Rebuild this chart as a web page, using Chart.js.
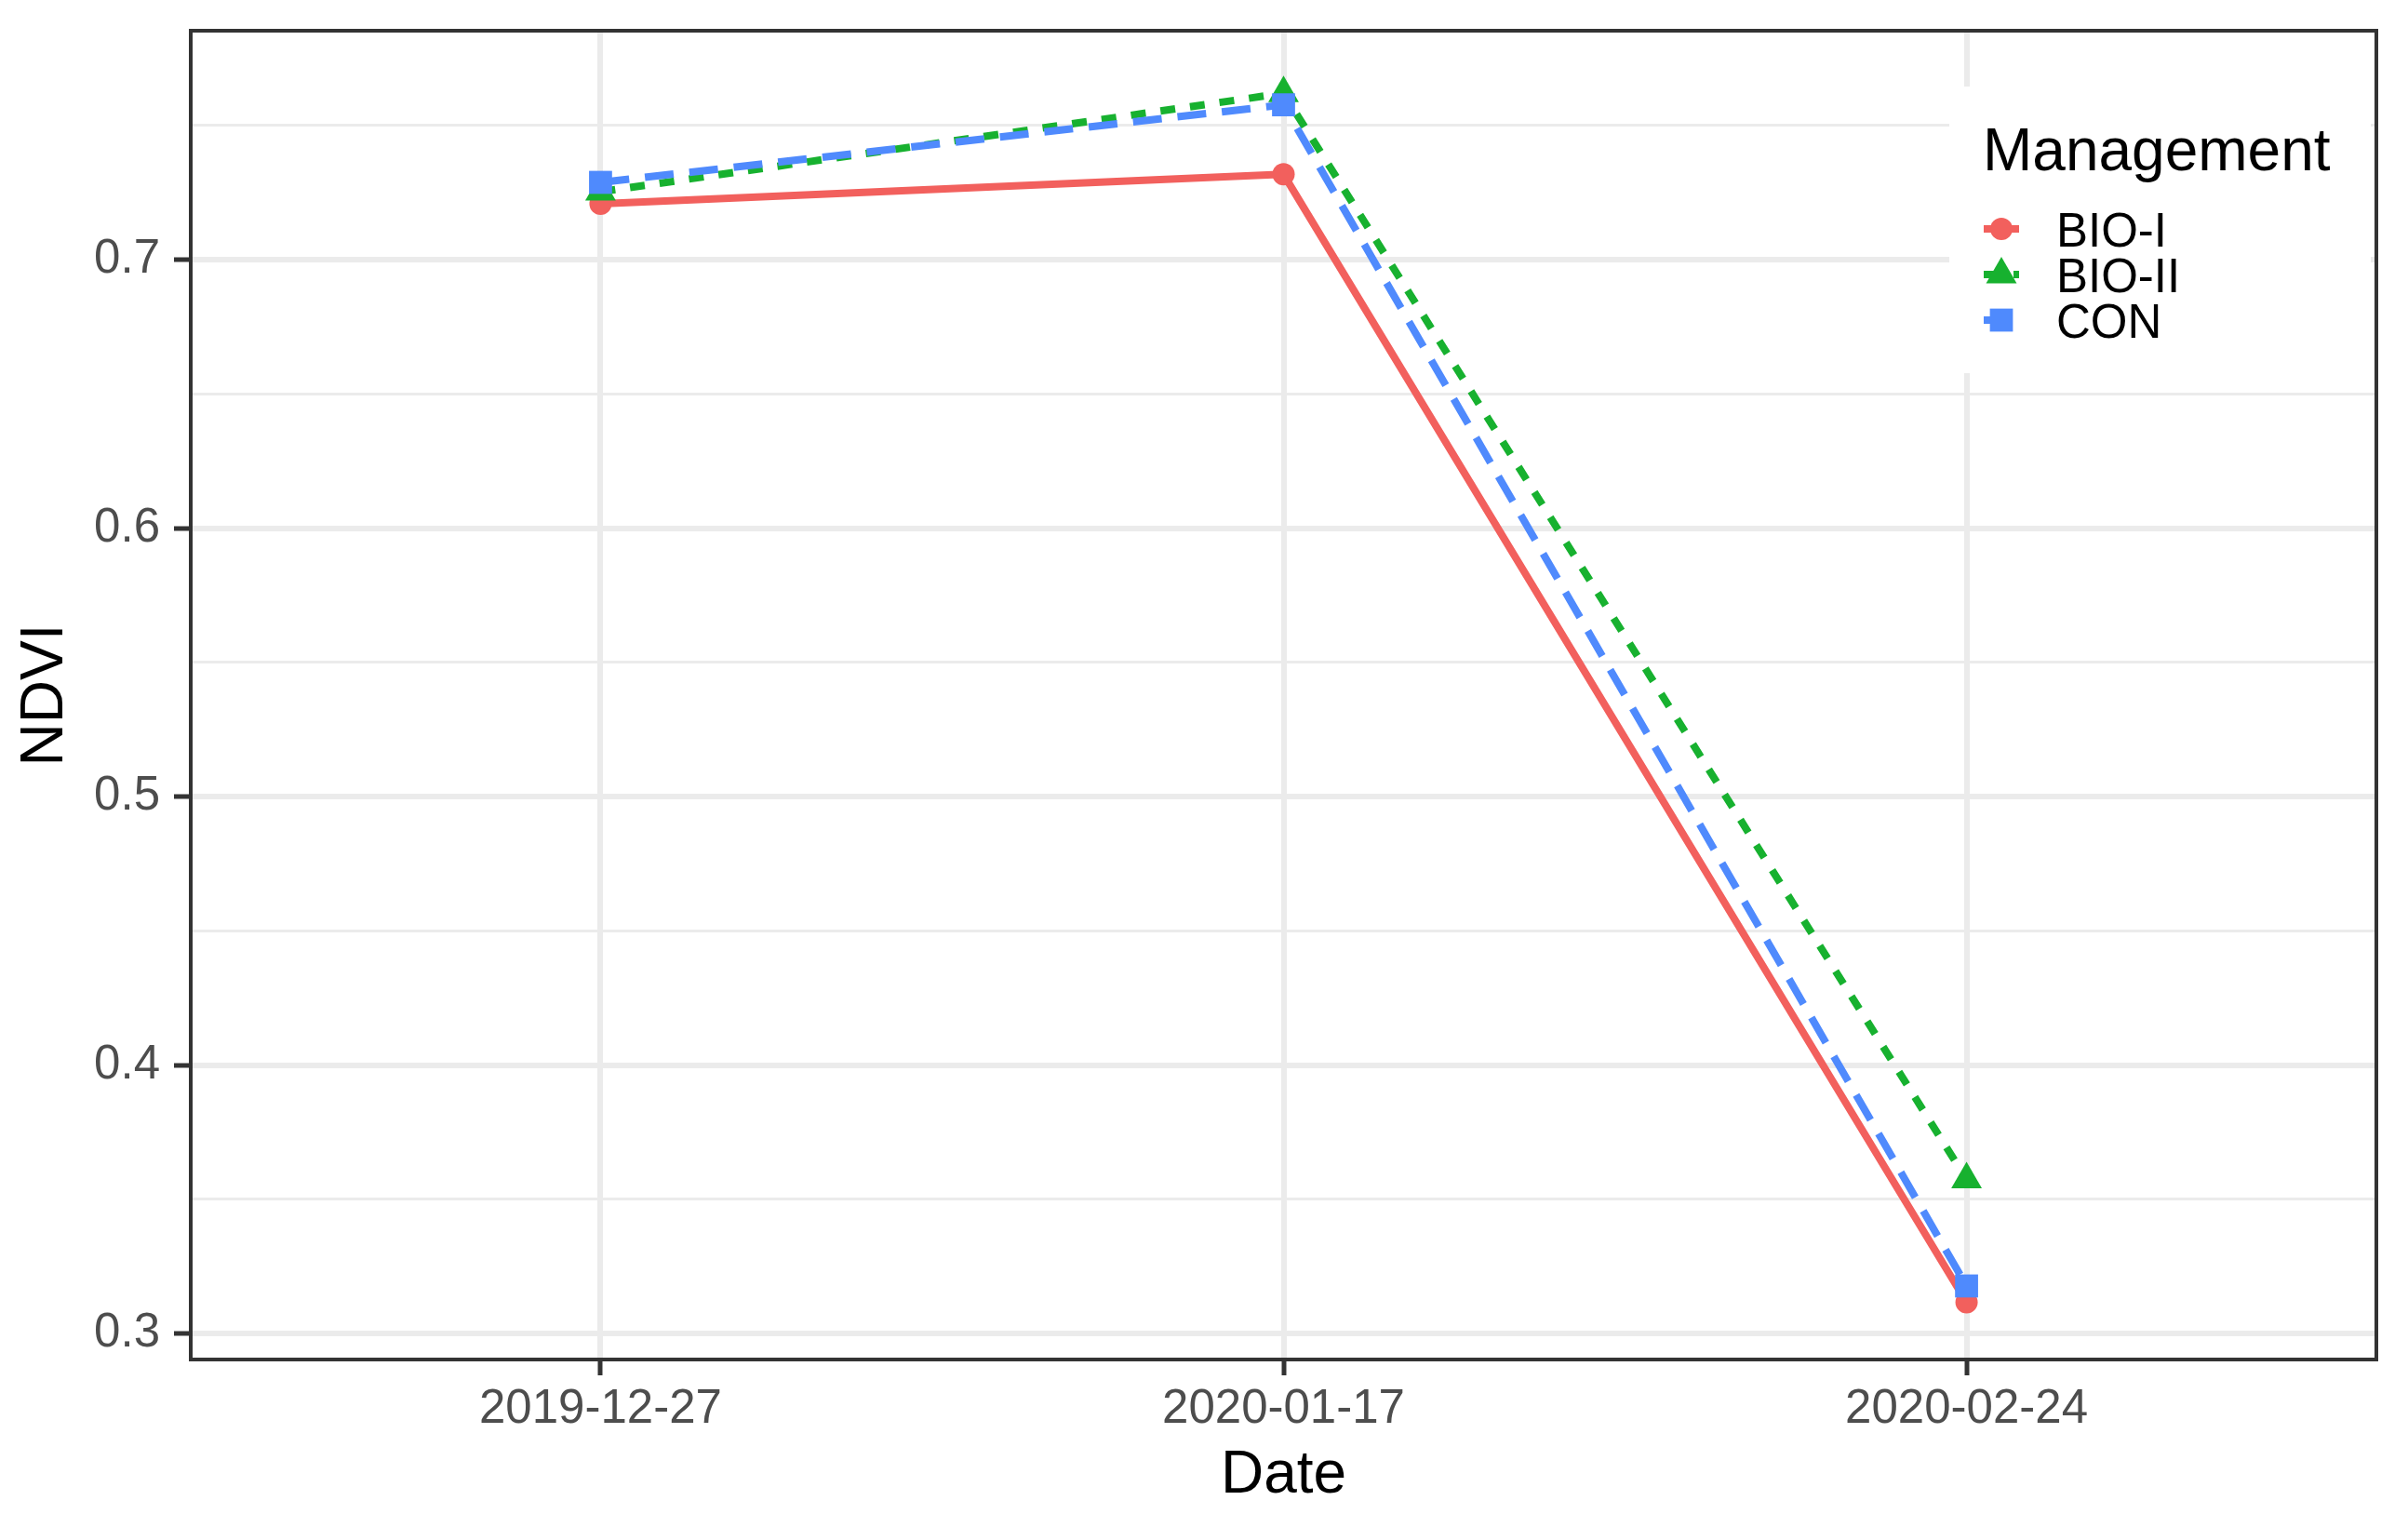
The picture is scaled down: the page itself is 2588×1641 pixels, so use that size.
<!DOCTYPE html>
<html>
<head>
<meta charset="utf-8">
<script src="https://cdn.jsdelivr.net/npm/chart.js@4/dist/chart.umd.min.js"></script>
<style>
  html, body { margin: 0; padding: 0; background: #ffffff; }
  #c { display: block; width: 2588px; height: 1641px; }
</style>
</head>
<body>
<canvas id="c" width="2588" height="1641"></canvas>
<script>
// ---------- data ----------
const categories = ['2019-12-27', '2020-01-17', '2020-02-24'];
const seriesNames = ['BIO-I', 'BIO-II', 'CON'];
const bioI  = [0.7208, 0.7318, 0.3116];
const bioII = [0.7253, 0.7620, 0.3574];
const con   = [0.7288, 0.7577, 0.3177];
const yMajorTicks = [0.3, 0.4, 0.5, 0.6, 0.7];
const yMinorTicks = [0.35, 0.45, 0.55, 0.65, 0.75];
const xTitle = 'Date';
const yTitle = 'NDVI';
const legendTitle = 'Management';

// ---------- styles ----------
const FONT = "'Liberation Sans', Arial, Helvetica, sans-serif";
const seriesValues = [bioI, bioII, con];
const colors = ['#F2605D', '#17B12F', '#4F8AFD'];
const dashes = [[], [16, 16], [31, 17]];
const pointStyles = ['circle', 'triangle', 'rect'];
const pointRadii = [12, 19, 17.5];
const LINE_W = 8;

Chart.defaults.font.family = FONT;

const isMajor = v => yMajorTicks.some(t => Math.abs(t - v) < 1e-9);

const datasets = [];
seriesValues.forEach((vals, s) => {
  datasets.push({
    label: seriesNames[s] + ' line',
    data: vals.map((v, i) => ({ x: i + 1, y: v })),
    borderColor: colors[s],
    borderWidth: LINE_W,
    borderDash: dashes[s],
    borderJoinStyle: 'round',
    pointRadius: 0,
    fill: false,
    tension: 0,
    order: 5 - s
  });
});
seriesValues.forEach((vals, s) => {
  datasets.push({
    label: seriesNames[s],
    data: vals.map((v, i) => ({ x: i + 1, y: v })),
    showLine: false,
    pointStyle: pointStyles[s],
    pointRadius: pointRadii[s],
    pointBackgroundColor: colors[s],
    pointBorderColor: colors[s],
    pointBorderWidth: 0,
    order: 2 - s
  });
});

function drawMarker(ctx, style, r, x, y) {
  ctx.beginPath();
  if (style === 'circle') {
    ctx.arc(x, y, r, 0, Math.PI * 2);
  } else if (style === 'triangle') {
    let a = 0;
    ctx.moveTo(x + Math.sin(a) * r, y - Math.cos(a) * r);
    a += 2 * Math.PI / 3;
    ctx.lineTo(x + Math.sin(a) * r, y - Math.cos(a) * r);
    a += 2 * Math.PI / 3;
    ctx.lineTo(x + Math.sin(a) * r, y - Math.cos(a) * r);
    ctx.closePath();
  } else {
    const s = Math.SQRT1_2 * r;
    ctx.rect(x - s, y - s, 2 * s, 2 * s);
  }
  ctx.fill();
}

const panelBorder = {
  id: 'panelBorder',
  afterDatasetsDraw(chart) {
    const { ctx, chartArea: a } = chart;
    ctx.save();
    ctx.strokeStyle = '#333333';
    ctx.lineWidth = 4;
    ctx.strokeRect(a.left, a.top, a.right - a.left, a.bottom - a.top);
    ctx.restore();
  }
};

const customLegend = {
  id: 'customLegend',
  afterDraw(chart) {
    const ctx = chart.ctx;
    ctx.save();
    ctx.fillStyle = '#ffffff';
    ctx.fillRect(2095, 93, 453, 308);
    ctx.fillStyle = '#000000';
    ctx.font = '64px ' + FONT;
    ctx.textAlign = 'left';
    ctx.textBaseline = 'alphabetic';
    ctx.fillText(legendTitle, 2131, 183);
    seriesNames.forEach((name, s) => {
      const cy = 246 + s * 49;
      ctx.save();
      ctx.strokeStyle = colors[s];
      ctx.lineWidth = LINE_W;
      ctx.setLineDash(dashes[s]);
      ctx.beginPath();
      ctx.moveTo(2132, cy);
      ctx.lineTo(2170, cy);
      ctx.stroke();
      ctx.restore();
      ctx.fillStyle = colors[s];
      drawMarker(ctx, pointStyles[s], pointRadii[s], 2151, cy);
      ctx.fillStyle = '#000000';
      ctx.font = '51px ' + FONT;
      ctx.fillText(name, 2210, cy + 18.5);
    });
    ctx.restore();
  }
};

new Chart(document.getElementById('c'), {
  type: 'line',
  data: { datasets },
  plugins: [panelBorder, customLegend],
  options: {
    responsive: false,
    animation: false,
    devicePixelRatio: 1,
    layout: { padding: { left: 0, right: 34, top: 33, bottom: 0 } },
    plugins: { legend: { display: false }, tooltip: { enabled: false } },
    scales: {
      x: {
        type: 'linear',
        min: 0.4,
        max: 3.6,
        afterBuildTicks: s => { s.ticks = categories.map((c, i) => ({ value: i + 1 })); },
        afterFit: s => { s.height = 1641 - 1461; s.paddingLeft = 0; s.paddingRight = 0; },
        ticks: {
          callback: v => categories[Math.round(v) - 1] ?? '',
          font: { size: 51, family: FONT },
          color: '#4D4D4D',
          padding: 6,
          maxRotation: 0,
          minRotation: 0,
          autoSkip: false
        },
        grid: {
          color: '#EBEBEB',
          lineWidth: 6,
          tickLength: 17,
          tickColor: '#333333',
          tickWidth: 5
        },
        border: { display: false },
        title: {
          display: true,
          text: xTitle,
          color: '#000000',
          font: { size: 64, family: FONT },
          padding: { top: 0, bottom: 16 }
        }
      },
      y: {
        type: 'linear',
        min: 0.2903,
        max: 0.7853,
        afterBuildTicks: s => {
          s.ticks = [...yMajorTicks, ...yMinorTicks].sort((a, b) => a - b).map(v => ({ value: v }));
        },
        afterFit: s => { s.width = 205; s.paddingTop = 0; s.paddingBottom = 0; },
        ticks: {
          callback: v => isMajor(v) ? v.toFixed(1) : '',
          font: { size: 51, family: FONT },
          color: '#4D4D4D',
          padding: 15,
          autoSkip: false
        },
        grid: {
          color: '#EBEBEB',
          lineWidth: ctx => (ctx.tick && isMajor(ctx.tick.value)) ? 6 : 3,
          tickLength: 18,
          tickColor: ctx => (ctx.tick && isMajor(ctx.tick.value)) ? '#333333' : 'rgba(0,0,0,0)',
          tickWidth: 5
        },
        border: { display: false },
        title: {
          display: true,
          text: yTitle,
          color: '#000000',
          font: { size: 64, family: FONT },
          padding: { top: 11, bottom: 0 }
        }
      }
    }
  }
});
</script>
</body>
</html>
